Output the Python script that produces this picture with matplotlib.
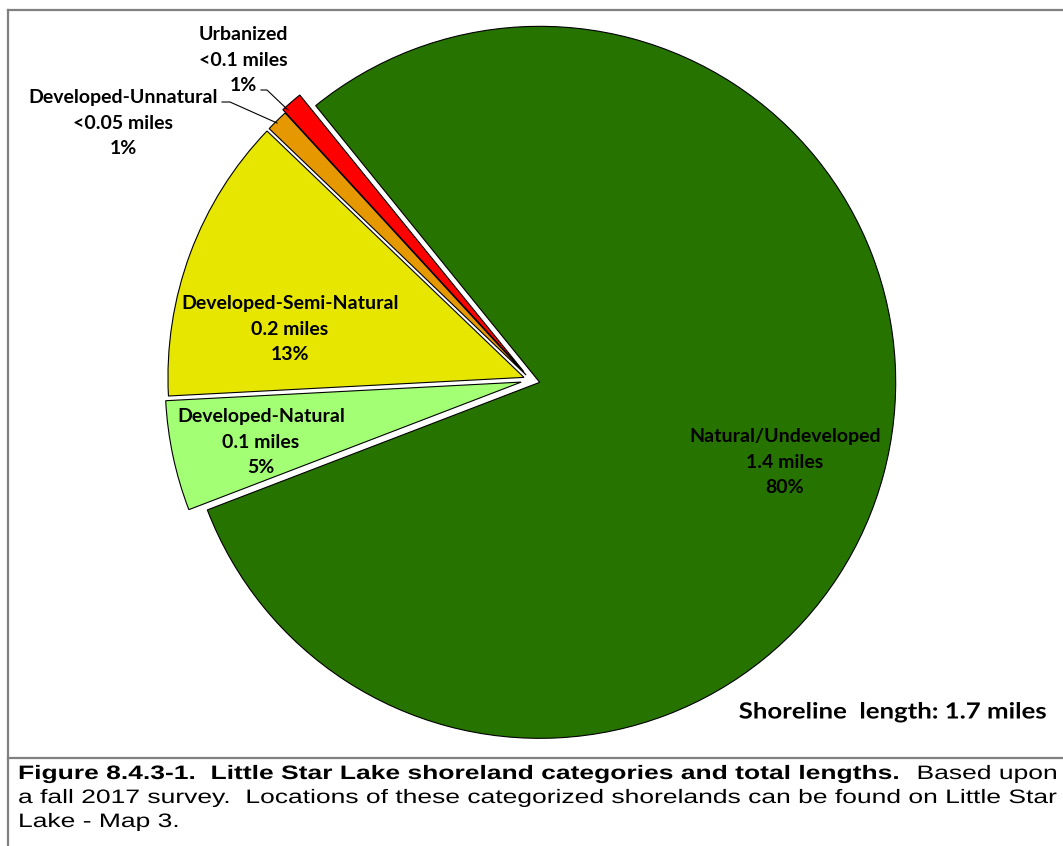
import matplotlib
matplotlib.use("Agg")
import matplotlib.pyplot as plt
from matplotlib.lines import Line2D
from matplotlib.patheffects import AbstractPathEffect
from matplotlib.transforms import Affine2D

# shoreland categories, in drawing order (clockwise from the top)
categories = ["Natural/Undeveloped", "Developed-Natural", "Developed-Semi-Natural",
              "Developed-Unnatural", "Urbanized"]
miles = ["1.4 miles", "0.1 miles", "0.2 miles", "<0.05 miles", "<0.1 miles"]
percent = [80, 5, 13, 1, 1]
colors = ["#267300", "#A3FF73", "#E6E600", "#E69800", "#FF0000"]
total_length = "1.7 miles"

W, H = 1063, 846


class Stretch(AbstractPathEffect):
    # widen glyphs horizontally about x0 (text in the source is stretched)
    def __init__(self, sx, x0):
        super().__init__()
        self.sx, self.x0 = sx, x0

    def draw_path(self, renderer, gc, tpath, affine, rgbFace=None):
        a = affine + Affine2D().translate(-self.x0, 0).scale(self.sx, 1).translate(self.x0, 0)
        renderer.draw_path(gc, tpath, a, rgbFace)


def main():
    fig = plt.figure(figsize=(W / 100, H / 100), dpi=100)
    ax = fig.add_axes([0, 0, 1, 1])

    # the pie, in pixel units (y up)
    cx, cy, r = 531, H - 380, 356
    explode = [9, 10, 7.5, 7, 11]
    wedges, _ = ax.pie(percent, colors=colors, startangle=129, counterclock=False,
                       center=(cx, cy), radius=r, explode=explode,
                       wedgeprops=dict(edgecolor="black", linewidth=0.8))
    ax.set_xlim(0, W)
    ax.set_ylim(0, H)
    ax.set_aspect("equal")
    ax.axis("off")

    lab_font = dict(family=["Lato", "DejaVu Sans"], fontweight="bold", fontsize=14,
                    ha="center", va="center", linespacing=1.62, color="black")
    texts = [f"{c}\n{m}\n{p}%" for c, m, p in zip(categories, miles, percent)]

    # labels inside the slices
    inside = {0: (785, 462), 1: (261, 442), 2: (290, 329)}
    for i, (px, py) in inside.items():
        ax.text(px, H - py, texts[i], **lab_font)

    # labels outside with leader lines
    ax.text(123, H - 123, texts[3], **lab_font)
    ax.text(243, H - 60, texts[4], **lab_font)
    ax.add_line(Line2D([222, 230, 277], [H - 102, H - 102, H - 123], color="black", lw=0.8))
    ax.add_line(Line2D([261, 267, 288], [H - 90, H - 90, H - 110], color="black", lw=0.8))

    ax.text(1048, H - 712, f"Shoreline  length: {total_length}", family=["Lato", "DejaVu Sans"],
            fontweight="bold", fontsize=16, ha="right", va="center",
            path_effects=[Stretch(1.16, 1048)])

    # borders of the figure box
    grey = "#808080"
    ax.add_line(Line2D([8, W], [H - 10, H - 10], color=grey, lw=1.6))
    ax.add_line(Line2D([8, 8], [0, H - 10], color=grey, lw=1.6))
    ax.add_line(Line2D([8, W], [H - 758, H - 758], color=grey, lw=1.6))

    # caption
    stretch = [Stretch(1.36, 18)]
    cap = dict(family=["Liberation Sans", "DejaVu Sans"], fontsize=14, va="baseline",
               ha="left", color="black", path_effects=stretch)
    t1 = ax.text(18, H - 779, "Figure 8.4.3-1.  Little Star Lake shoreland categories and total lengths.",
                 fontweight="bold", **cap)
    fig.canvas.draw()
    bb = t1.get_window_extent()
    ax.text(bb.x1, H - 779, "  Based upon", **cap)
    ax.text(18, H - 803, "a fall 2017 survey.  Locations of these categorized shorelands can be found on Little Star", **cap)
    ax.text(18, H - 827, "Lake - Map 3.", **cap)

    fig.savefig("out.png", dpi=100)


if __name__ == "__main__":
    main()
